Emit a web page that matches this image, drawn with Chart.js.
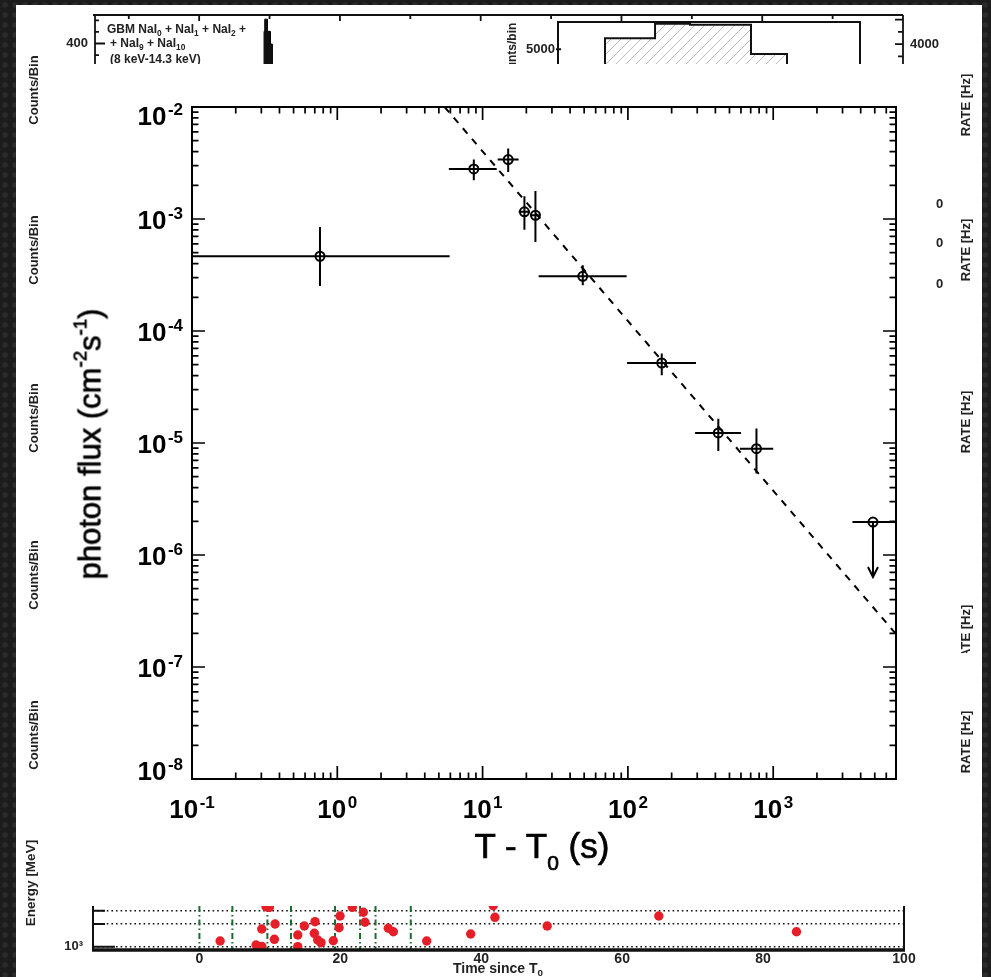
<!DOCTYPE html>
<html>
<head>
<meta charset="utf-8">
<title>LAT photon flux</title>
<script src="https://cdn.jsdelivr.net/npm/chart.js@4.4.1/dist/chart.umd.min.js"></script>
<style>
  html, body { margin: 0; padding: 0; }
  body {
    width: 991px; height: 977px; overflow: hidden; position: relative;
    background-color: #1c1c1c;
    background-image: radial-gradient(circle, #2b2b2b 0, #2b2b2b 2px, rgba(0,0,0,0) 3.5px);
    background-size: 10px 10px;
  }
  #page { position: absolute; left: 16px; top: 5px; width: 966px; height: 972px; background: #fff; }
  canvas { position: absolute; left: 0; top: 0; }
  #topclip { position: absolute; left: 0; top: 0; width: 991px; height: 64px; overflow: hidden; }
  .lbl { position: absolute; font-family: "Liberation Sans", Arial, sans-serif; font-weight: bold;
         color: #222; white-space: nowrap; line-height: 1; font-size: 13px; }
  .rot { transform: translate(-50%, -50%) rotate(-90deg); }
  .lbl sub { font-size: 70%; vertical-align: 0; position: relative; top: 0.35em; }
  .title { position: absolute; font-family: "Liberation Sans", Arial, sans-serif; color: #000;
           white-space: nowrap; line-height: 1; text-align: center; -webkit-text-stroke: 0.7px #000; }
  .title sup { font-size: 60%; vertical-align: 0; position: relative; top: -0.75em; }
  .title sub { font-size: 60%; vertical-align: 0; position: relative; top: 0.57em; }
  .clipbox { position: absolute; overflow: hidden; }
</style>
</head>
<body>
<div id="page"></div>

<div id="topclip">
  <canvas id="topChart" width="991" height="200"></canvas>
  <canvas id="insetChart" width="991" height="200"></canvas>
  <div class="lbl" style="left:107px;top:23px;font-size:12px">GBM NaI<sub>0</sub> + NaI<sub>1</sub> + NaI<sub>2</sub> +</div>
  <div class="lbl" style="left:110px;top:37px;font-size:12px">+ NaI<sub>9</sub> + NaI<sub>10</sub></div>
  <div class="lbl" style="left:110px;top:53px;font-size:12px">(8 keV-14.3 keV)</div>
  <div class="lbl rot" style="left:512px;top:54px;font-size:12px">Counts/bin</div>
</div>

<canvas id="mainChart" width="991" height="977"></canvas>
<canvas id="stripChart" width="991" height="977"></canvas>

<div class="lbl rot" style="left:33px;top:90px">Counts/Bin</div>
<div class="lbl rot" style="left:33px;top:250px">Counts/Bin</div>
<div class="lbl rot" style="left:33px;top:418px">Counts/Bin</div>
<div class="lbl rot" style="left:33px;top:575px">Counts/Bin</div>
<div class="lbl rot" style="left:33px;top:735px">Counts/Bin</div>

<div class="lbl rot" style="left:965px;top:105px">RATE [Hz]</div>
<div class="lbl rot" style="left:965px;top:250px">RATE [Hz]</div>
<div class="lbl rot" style="left:965px;top:422px">RATE [Hz]</div>
<div class="clipbox" style="left:950px;top:600px;width:30px;height:53px">
  <div class="lbl rot" style="left:15px;top:36px">RATE [Hz]</div>
</div>
<div class="lbl rot" style="left:965px;top:742px">RATE [Hz]</div>
<div class="lbl" style="left:936px;top:197px">0</div>
<div class="lbl" style="left:936px;top:236px">0</div>
<div class="lbl" style="left:936px;top:277px">0</div>

<div class="title rot" style="left:90px;top:444px;font-size:31px">photon flux (cm<sup>-2</sup>s<sup>-1</sup>)</div>
<div class="title" style="left:342px;top:828px;width:400px;font-size:35px">T - T<sub>0</sub> (s)</div>

<div class="lbl rot" style="left:31px;top:883px;font-size:13.5px">Energy [MeV]</div>
<div class="lbl" style="left:398px;top:961px;width:200px;text-align:center;font-size:14px">Time since T<sub>0</sub></div>

<script>
const FONT = '"Liberation Sans", Arial, Helvetica, sans-serif';
Chart.defaults.font.family = FONT;
Chart.defaults.animation = false;
Chart.defaults.plugins.legend.display = false;
Chart.defaults.plugins.tooltip.enabled = false;

// ---------------- main panel: photon flux vs T - T0 ----------------
const xDecades = [0.1, 1, 10, 100, 1000];
const xDecadeExp = ['-1', '0', '1', '2', '3'];
const yDecades = [1e-8, 1e-7, 1e-6, 1e-5, 1e-4, 1e-3, 1e-2];
const yDecadeExp = ['-8', '-7', '-6', '-5', '-4', '-3', '-2'];

// time bins (s) and flux (cm^-2 s^-1)
const tMid   = [0.76, 8.7, 15.0, 19.4, 23.1, 48.9, 171, 419, 767, 4860];
const tLo    = [0.05, 5.86, 12.7, 17.7, 21.2, 24.3, 98.7, 290, 590, 3510];
const tHi    = [5.93, 12.5, 17.7, 21.2, 24.3, 98.0, 294, 600, 1000, 9000];
const flux   = [4.65e-4, 2.80e-3, 3.39e-3, 1.16e-3, 1.08e-3, 3.08e-4, 5.18e-5, 1.23e-5, 8.9e-6, 1.97e-6];
const fluxLo = [2.52e-4, 2.22e-3, 2.63e-3, 8.0e-4, 6.24e-4, 2.56e-4, 4.02e-5, 8.5e-6, 5.33e-6, 6.37e-7];
const fluxHi = [8.5e-4, 3.39e-3, 4.25e-3, 1.6e-3, 1.78e-3, 3.86e-4, 6.29e-5, 1.65e-5, 1.35e-5, 1.97e-6];
const upperLimit = [false, false, false, false, false, false, false, false, false, true];

// power-law decay fit (dashed)
const fitT = [5.48, 7000];
const fitFlux = [1.0e-2, 1.97e-7];

function logTicks(min, max) {
  const out = [];
  for (let e = Math.floor(Math.log10(min)); e <= Math.ceil(Math.log10(max)); e++) {
    for (let m = 1; m <= 9; m++) {
      const v = m * Math.pow(10, e);
      if (v >= min * 0.999 && v <= max * 1.001) out.push({ value: v, major: m === 1 });
    }
  }
  return out;
}

const mainFrame = {
  id: 'mainFrame',
  afterDatasetsDraw(chart) {
    const { ctx, chartArea: a, scales: { x, y } } = chart;
    ctx.save();
    ctx.strokeStyle = '#000';
    ctx.lineWidth = 1.7;
    ctx.beginPath();
    x.ticks.forEach(t => {
      const px = x.getPixelForValue(t.value);
      if (px < a.left + 2 || px > a.right - 2) return;
      const len = t.major ? 13 : 6.5;
      ctx.moveTo(px, a.bottom); ctx.lineTo(px, a.bottom - len);
      ctx.moveTo(px, a.top); ctx.lineTo(px, a.top + len);
    });
    y.ticks.forEach(t => {
      const py = y.getPixelForValue(t.value);
      if (py < a.top + 2 || py > a.bottom - 2) return;
      const len = t.major ? 13 : 6.5;
      ctx.moveTo(a.left, py); ctx.lineTo(a.left + len, py);
      ctx.moveTo(a.right, py); ctx.lineTo(a.right - len, py);
    });
    ctx.stroke();
    ctx.lineWidth = 2;
    ctx.strokeRect(a.left, a.top, a.right - a.left, a.bottom - a.top);
    ctx.restore();
  }
};

// "10" with a raised exponent, placed by the scales
const decadeLabels = {
  id: 'decadeLabels',
  afterDraw(chart) {
    const { ctx, chartArea: a, scales: { x, y } } = chart;
    const big = 'bold 26px ' + FONT, small = 'bold 17px ' + FONT;
    ctx.save();
    ctx.fillStyle = '#000';
    ctx.textAlign = 'left';
    ctx.textBaseline = 'alphabetic';
    const width = exp => {
      ctx.font = big; const w1 = ctx.measureText('10').width;
      ctx.font = small; return [w1, w1 + 1.5 + ctx.measureText(exp).width];
    };
    const draw = (exp, left, base) => {
      const [w1] = width(exp);
      ctx.font = big; ctx.fillText('10', left, base);
      ctx.font = small; ctx.fillText(exp, left + w1 + 1.5, base - 10);
    };
    xDecades.forEach((v, i) => {
      const px = x.getPixelForValue(v);
      const w = width(xDecadeExp[i])[1];
      draw(xDecadeExp[i], px - w / 2, a.bottom + 39);
    });
    yDecades.forEach((v, i) => {
      const py = y.getPixelForValue(v);
      const w = width(yDecadeExp[i])[1];
      const base = Math.min(Math.max(py + 10, a.top + 18), a.bottom + 1);
      draw(yDecadeExp[i], a.left - 9 - w, base);
    });
    ctx.restore();
  }
};

const errorBars = {
  id: 'errorBars',
  afterDatasetsDraw(chart) {
    const { ctx, chartArea: a, scales: { x, y } } = chart;
    ctx.save();
    ctx.beginPath();
    ctx.rect(a.left, a.top, a.right - a.left, a.bottom - a.top);
    ctx.clip();
    ctx.strokeStyle = '#000';
    ctx.lineWidth = 2;
    ctx.beginPath();
    for (let i = 0; i < tMid.length; i++) {
      const px = x.getPixelForValue(tMid[i]);
      const py = y.getPixelForValue(flux[i]);
      ctx.moveTo(x.getPixelForValue(tLo[i]), py);
      ctx.lineTo(x.getPixelForValue(tHi[i]), py);
      if (upperLimit[i]) {
        const tip = y.getPixelForValue(fluxLo[i]);
        ctx.moveTo(px, py); ctx.lineTo(px, tip);
        ctx.moveTo(px - 5, tip - 10); ctx.lineTo(px, tip); ctx.lineTo(px + 5, tip - 10);
      } else {
        ctx.moveTo(px, y.getPixelForValue(fluxHi[i]));
        ctx.lineTo(px, y.getPixelForValue(fluxLo[i]));
      }
    }
    ctx.stroke();
    ctx.restore();
  }
};

new Chart(document.getElementById('mainChart'), {
  type: 'scatter',
  data: {
    datasets: [
      {
        data: tMid.map((t, i) => ({ x: t, y: flux[i] })),
        pointStyle: 'circle',
        pointRadius: 4.5,
        borderColor: '#000',
        borderWidth: 2,
        backgroundColor: 'rgba(0,0,0,0)'
      },
      {
        type: 'line',
        data: fitT.map((t, i) => ({ x: t, y: fitFlux[i] })),
        showLine: true,
        borderColor: '#000',
        borderWidth: 2,
        borderDash: [7, 7],
        pointRadius: 0,
        clip: 0
      }
    ]
  },
  options: {
    responsive: false,
    layout: { padding: { top: 107, right: 95, left: 0, bottom: 0 } },
    scales: {
      x: {
        type: 'logarithmic',
        min: 0.1, max: 7000,
        afterBuildTicks: s => { s.ticks = logTicks(0.1, 7000); },
        afterFit: s => { s.height = 198; },
        grid: { display: false, drawTicks: false },
        border: { display: false },
        ticks: { display: false, autoSkip: false }
      },
      y: {
        type: 'logarithmic',
        min: 1e-8, max: 1e-2,
        afterBuildTicks: s => { s.ticks = logTicks(1e-8, 1e-2); },
        afterFit: s => { s.width = 192; },
        grid: { display: false, drawTicks: false },
        border: { display: false },
        ticks: { display: false, autoSkip: false }
      }
    }
  },
  plugins: [mainFrame, errorBars, decadeLabels]
});

// ---------------- bottom strip: LAT photon energies vs time ----------------
const latTime = [2.94, 8.04, 8.85, 8.85, 9.46, 9.93, 10.74, 10.64, 13.96, 13.96, 14.89, 16.41, 16.31, 16.79, 17.26,
                 19.0, 19.82, 19.96, 21.7, 23.26, 23.5, 26.81, 27.52, 32.26, 38.5, 41.7, 41.94, 49.36, 65.2, 84.74];
const latEnergy = [1190, 1053, 1009, 1717, 3390, 3330, 2000, 1253, 1430, 1000, 1882, 2146, 1505, 1227, 1130,
                   1201, 1786, 2553, 3330, 2860, 2107, 1754, 1581, 1190, 1474, 3500, 2454, 1882, 2553, 1581];
const intervalEdges = [0, 4.68, 9.65, 13.0, 19.25, 22.8, 25.0, 30.0];
const stripXTicks = [0, 20, 40, 60, 80, 100];
const stripYTicks = [1000, 2000, 3000];

const stripFrame = {
  id: 'stripFrame',
  beforeDatasetsDraw(chart) {
    const { ctx, chartArea: a, scales: { x } } = chart;
    ctx.save();
    ctx.strokeStyle = '#1e6b30';
    ctx.lineWidth = 2;
    ctx.setLineDash([6, 3, 1.5, 3]);
    intervalEdges.forEach(t => {
      const px = x.getPixelForValue(t);
      ctx.beginPath(); ctx.moveTo(px, a.top); ctx.lineTo(px, a.bottom); ctx.stroke();
    });
    ctx.restore();
  },
  afterDatasetsDraw(chart) {
    const { ctx, chartArea: a, scales: { y } } = chart;
    ctx.save();
    ctx.strokeStyle = '#111';
    ctx.lineWidth = 2;
    ctx.beginPath();
    ctx.moveTo(a.left, a.top); ctx.lineTo(a.left, a.bottom);
    ctx.moveTo(a.right, a.top); ctx.lineTo(a.right, a.bottom);
    stripYTicks.forEach(v => {
      const py = y.getPixelForValue(v);
      ctx.moveTo(a.left, py); ctx.lineTo(a.left + (v === 1000 ? 22 : 12), py);
    });
    ctx.stroke();
    ctx.lineWidth = 3.5;
    ctx.beginPath();
    ctx.moveTo(a.left - 1, a.bottom); ctx.lineTo(a.right + 1, a.bottom);
    ctx.stroke();
    ctx.restore();
  }
};

new Chart(document.getElementById('stripChart'), {
  type: 'scatter',
  data: {
    datasets: [{
      data: latTime.map((t, i) => ({ x: t, y: latEnergy[i] })),
      pointRadius: 4.7,
      borderWidth: 0,
      backgroundColor: '#e61e28',
      clip: 0
    }]
  },
  options: {
    responsive: false,
    layout: { padding: { top: 906, right: 87, left: 0, bottom: 0 } },
    scales: {
      x: {
        type: 'linear', min: -15.1, max: 100,
        afterBuildTicks: s => { s.ticks = stripXTicks.map(v => ({ value: v })); },
        afterFit: s => { s.height = 27; },
        grid: { display: false, drawTicks: false },
        border: { display: false },
        ticks: { autoSkip: false, maxRotation: 0, padding: 1, color: '#222', font: { size: 14, weight: 'bold' } }
      },
      y: {
        type: 'logarithmic', min: 904, max: 3466,
        afterBuildTicks: s => { s.ticks = stripYTicks.map(v => ({ value: v })); },
        afterFit: s => { s.width = 93; },
        grid: { display: true, drawTicks: false, color: '#111', lineWidth: 1.4 },
        border: { display: false, dash: [1.6, 3] },
        ticks: { autoSkip: false, padding: 10, color: '#222', font: { size: 13, weight: 'bold' },
                 callback: v => (v === 1000 ? '10³' : '') }
      }
    }
  },
  plugins: [stripFrame]
});

// ---------------- top strip: GBM light curve (cropped) ----------------
const gbmEdges = [9.22, 9.32, 9.70, 10.13, 10.41];
const gbmCounts = [505, 610, 505, 395];
const topXTicks = [-10, 0, 10, 20, 30, 40, 50, 60, 70, 80, 90];
const topYTicks = [-800, -700, -600, -500, -400, -300, -200, -100, 0, 100, 200, 300, 400, 500, 600];
const rateTicks = [3500, 4000, 4500, 5000];

function stepPoints(edges, counts, floor) {
  const pts = [{ x: edges[0], y: floor }];
  counts.forEach((c, i) => pts.push({ x: edges[i], y: c }));
  pts.push({ x: edges[edges.length - 1], y: counts[counts.length - 1] });
  pts.push({ x: edges[edges.length - 1], y: floor });
  return pts;
}

const topFrame = {
  id: 'topFrame',
  afterDatasetsDraw(chart) {
    const { ctx, chartArea: a, scales: { x, y, y2 } } = chart;
    ctx.save();
    ctx.strokeStyle = '#111';
    ctx.lineWidth = 1.8;
    ctx.beginPath();
    ctx.moveTo(a.left - 2, a.top); ctx.lineTo(a.right, a.top);
    ctx.moveTo(a.left, a.top); ctx.lineTo(a.left, a.bottom);
    ctx.moveTo(a.right, a.top); ctx.lineTo(a.right, a.bottom);
    x.ticks.forEach(t => {
      const px = x.getPixelForValue(t.value);
      ctx.moveTo(px, a.top); ctx.lineTo(px, a.top + (t.value % 20 === 0 ? 6 : 4));
    });
    y.ticks.forEach(t => {
      const py = y.getPixelForValue(t.value);
      ctx.moveTo(a.left, py); ctx.lineTo(a.left + (t.value % 400 === 0 ? 10 : 4), py);
    });
    y2.ticks.forEach(t => {
      const py = y2.getPixelForValue(t.value);
      ctx.moveTo(a.right, py); ctx.lineTo(a.right - (t.value % 1000 === 0 ? 8 : 5), py);
    });
    ctx.stroke();
    ctx.restore();
  }
};

new Chart(document.getElementById('topChart'), {
  type: 'line',
  data: {
    datasets: [{
      data: stepPoints(gbmEdges, gbmCounts, -822),
      stepped: true,
      borderColor: '#000',
      borderWidth: 1,
      backgroundColor: '#111',
      fill: 'start',
      pointRadius: 0
    }]
  },
  options: {
    responsive: false,
    layout: { padding: { top: 15, right: 0, left: 0, bottom: 0 } },
    scales: {
      x: {
        type: 'linear', min: -14.8, max: 100,
        afterBuildTicks: s => { s.ticks = topXTicks.map(v => ({ value: v })); },
        afterFit: s => { s.height = 0; },
        grid: { display: false, drawTicks: false },
        border: { display: false },
        ticks: { display: false }
      },
      y: {
        type: 'linear', min: -822, max: 646,
        afterBuildTicks: s => { s.ticks = topYTicks.map(v => ({ value: v })); },
        afterFit: s => { s.width = 95; },
        grid: { display: false, drawTicks: false },
        border: { display: false },
        ticks: { autoSkip: false, padding: 7, color: '#222', font: { size: 13, weight: 'bold' },
                 callback: v => (v === 400 ? '400' : '') }
      },
      y2: {
        type: 'linear', position: 'right', min: -1763, max: 5192,
        afterBuildTicks: s => { s.ticks = rateTicks.map(v => ({ value: v })); },
        afterFit: s => { s.width = 88; },
        grid: { display: false, drawTicks: false },
        border: { display: false },
        ticks: { autoSkip: false, padding: 7, color: '#222', font: { size: 13, weight: 'bold' },
                 callback: v => (v === 4000 ? '4000' : '') }
      }
    }
  },
  plugins: [topFrame]
});

// ---------------- top inset: hatched count histogram (cropped) ----------------
const insetEdges = [4.67, 9.64, 13.11, 19.17, 22.75, 30];
const insetCounts = [5394, 5908, 5874, 4834, 3000];

const hatch = document.createElement('canvas');
hatch.width = 10; hatch.height = 10;
const hctx = hatch.getContext('2d');
hctx.strokeStyle = '#a8a8a8';
hctx.lineWidth = 0.8;
hctx.beginPath();
hctx.moveTo(0, 10); hctx.lineTo(10, 0);
hctx.moveTo(-5, 5); hctx.lineTo(5, -5);
hctx.moveTo(5, 15); hctx.lineTo(15, 5);
hctx.stroke();
const hatchPattern = hctx.createPattern(hatch, 'repeat');

const insetFrame = {
  id: 'insetFrame',
  afterDatasetsDraw(chart) {
    const { ctx, chartArea: a, scales: { y } } = chart;
    ctx.save();
    ctx.strokeStyle = '#111';
    ctx.lineWidth = 2;
    ctx.beginPath();
    ctx.moveTo(a.left, a.bottom); ctx.lineTo(a.left, a.top); ctx.lineTo(a.right, a.top); ctx.lineTo(a.right, a.bottom);
    const py = y.getPixelForValue(5000);
    ctx.moveTo(a.left - 2, py); ctx.lineTo(a.left + 3, py);
    ctx.stroke();
    ctx.restore();
  }
};

new Chart(document.getElementById('insetChart'), {
  type: 'line',
  data: {
    datasets: [{
      data: stepPoints(insetEdges, insetCounts, 0),
      stepped: true,
      borderColor: '#111',
      borderWidth: 2,
      backgroundColor: hatchPattern,
      fill: 'start',
      pointRadius: 0
    }]
  },
  options: {
    responsive: false,
    layout: { padding: { top: 22, right: 131, left: 0, bottom: 0 } },
    scales: {
      x: {
        type: 'linear', min: 0, max: 30,
        afterFit: s => { s.height = 0; },
        grid: { display: false, drawTicks: false },
        border: { display: false },
        ticks: { display: false }
      },
      y: {
        type: 'linear', min: 0, max: 5975,
        afterBuildTicks: s => { s.ticks = [{ value: 4000 }, { value: 5000 }]; },
        afterFit: s => { s.width = 558; },
        grid: { display: false, drawTicks: false },
        border: { display: false },
        ticks: { autoSkip: false, padding: 3, color: '#222', font: { size: 13, weight: 'bold' },
                 callback: v => (v === 5000 ? '5000' : '') }
      }
    }
  },
  plugins: [insetFrame]
});
</script>
</body>
</html>
